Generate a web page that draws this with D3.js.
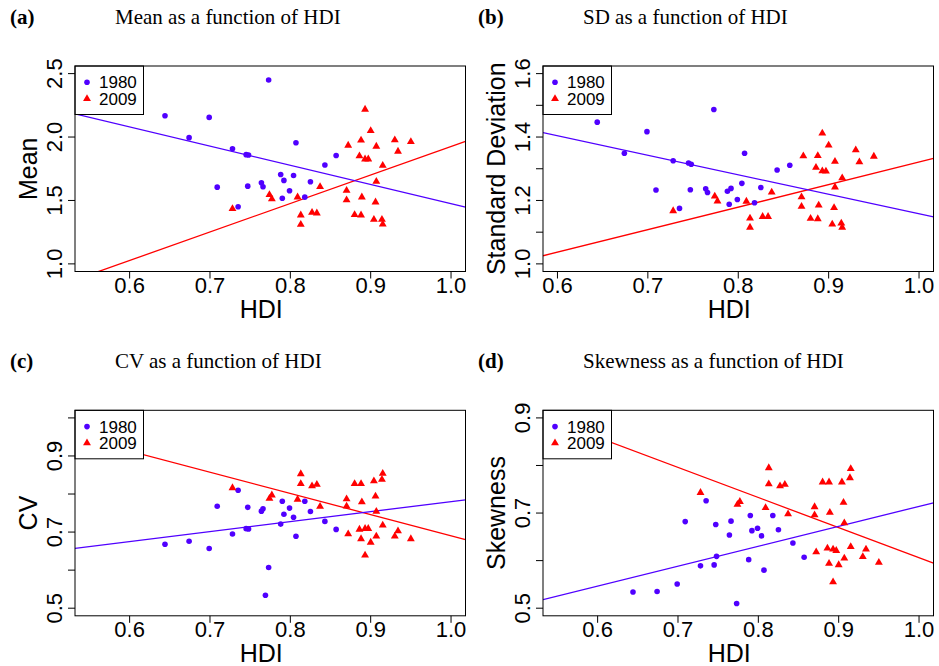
<!DOCTYPE html>
<html>
<head>
<meta charset="utf-8">
<script src="https://cdn.jsdelivr.net/npm/d3@7"></script>
<style>
  body { margin: 0; background: #fff; }
  .tick-label, .axis-label, .legend-text { font-family: "Liberation Sans", Arial, sans-serif; }
  .title, .panel-tag { font-family: "Liberation Serif", "Times New Roman", serif; }
</style>
</head>
<body>
<div class="chart"></div>
<script>
var svgWidth = 939;
var svgHeight = 666;

// 1980 countries (one value per country, null where the point falls outside the plot)
var hdi1980 = [0.644, 0.674, 0.699, 0.709, 0.728, 0.735, 0.745, 0.748, 0.747, 0.764, 0.766, 0.769,
    0.773, 0.788, 0.790, 0.792, 0.799, 0.804, 0.807, 0.818, 0.825, 0.843, 0.857];
var mean1980 = [2.168, 1.995, 2.155, 1.605, 1.908, 1.450, 1.861, 1.858, 1.613, 1.639, 1.608, null,
    2.450, 1.705, 1.518, 1.658, 1.576, 1.697, 1.955, 1.526, 1.647, 1.779, 1.855];
var sd1980 = [1.447, 1.349, 1.417, 1.233, 1.325, 1.175, 1.318, 1.314, 1.234, 1.237, 1.225, null,
    1.487, 1.229, 1.188, 1.238, 1.203, 1.254, 1.349, 1.193, 1.241, 1.296, 1.311];
var cv1980 = [0.668, 0.676, 0.657, 0.768, 0.695, 0.810, 0.709, 0.708, 0.765, 0.755, 0.761, 0.534,
    0.607, 0.721, 0.781, 0.747, 0.763, 0.739, 0.689, 0.781, 0.754, 0.728, 0.707];
var skew1980 = [0.534, 0.535, 0.551, 0.682, 0.589, 0.726, 0.591, 0.609, 0.676, 0.654, 0.683, null,
    0.510, 0.602, 0.695, 0.663, 0.668, 0.652, 0.580, 0.695, 0.665, 0.637, 0.607];

// 2009 countries
var hdi2009 = [0.728, 0.774, 0.777, 0.809, 0.813, 0.813, 0.827, 0.833, 0.837, 0.870, 0.870, 0.872,
    0.880, 0.886, 0.888, 0.889, 0.888, 0.893, 0.893, 0.897, 0.900, 0.904, 0.906, 0.907, 0.907,
    0.915, 0.914, 0.915, 0.930, 0.934, 0.950];
var mean2009 = [1.434, 1.545, 1.511, 1.526, 1.384, 1.311, 1.405, 1.400, 1.608, 1.579, 1.503, 1.934,
    1.387, 1.850, 1.974, 1.526, 1.384, 2.218, 1.826, 1.826, 2.050, 1.350, 1.487, 1.926, 1.650,
    1.776, 1.350, 1.313, 1.976, 1.887, 1.963];
var sd2009 = [1.167, 1.213, 1.198, 1.197, 1.144, 1.115, 1.149, 1.149, 1.226, 1.211, 1.181, 1.340,
    1.143, 1.304, 1.341, 1.185, 1.142, 1.412, 1.293, 1.292, 1.374, 1.125, 1.177, 1.323, 1.242,
    1.271, 1.128, 1.115, 1.359, 1.321, 1.339];
var cv2009 = [0.816, 0.788, 0.797, 0.786, 0.827, 0.853, 0.821, 0.825, 0.767, 0.768, 0.787, 0.695,
    0.827, 0.707, 0.682, 0.779, 0.827, 0.639, 0.709, 0.709, 0.673, 0.834, 0.794, 0.689, 0.754,
    0.718, 0.838, 0.854, 0.689, 0.703, 0.682];
var skew2009 = [0.743, 0.718, 0.724, 0.711, 0.761, 0.795, 0.757, 0.760, 0.698, 0.696, 0.713, 0.618,
    0.765, 0.626, 0.594, 0.701, 0.765, 0.555, 0.624, 0.621, 0.591, 0.765, 0.722, 0.605, 0.679,
    0.629, 0.774, 0.793, 0.608, 0.624, 0.596];

// fitted lines [intercept, slope]
var fitMean1980 = [2.988, -1.513], fitMean2009 = [-0.320, 2.245];
var fitSd1980 = [1.773, -0.615], fitSd2009 = [0.611, 0.710];
var fitCv1980 = [0.518, 0.262], fitCv2009 = [1.248, -0.558];
var fitSkew1980 = [0.295, 0.419], fitSkew2009 = [1.239, -0.633];

// axis ticks
var xTicks = [0.6, 0.7, 0.8, 0.9, 1.0];
var yTicksMean = [1.0, 1.5, 2.0, 2.5];
var yTicksSd = [1.0, 1.1, 1.2, 1.3, 1.4, 1.5, 1.6], yLabelsSd = [1.0, 1.2, 1.4, 1.6];
var yTicksCv = [0.5, 0.6, 0.7, 0.8, 0.9, 1.0], yLabelsCv = [0.5, 0.7, 0.9];
var yTicksSkew = [0.5, 0.6, 0.7, 0.8, 0.9], yLabelsSkew = [0.5, 0.7, 0.9];

var legendYears = ["1980", "2009"];
var col1980 = "#5000ff", col2009 = "#ff0000";

var panels = [
    { tag: "(a)", title: "Mean as a function of HDI", ylab: "Mean", left: 75, top: 66,
      xlim: [0.55, 1.0], ylim: [1.0, 2.5], yTicks: yTicksMean, yLabels: yTicksMean,
      y80: mean1980, y09: mean2009, fit80: fitMean1980, fit09: fitMean2009 },
    { tag: "(b)", title: "SD as a function of HDI", ylab: "Standard Deviation", left: 543, top: 66,
      xlim: [0.6, 1.0], ylim: [1.0, 1.6], yTicks: yTicksSd, yLabels: yLabelsSd,
      y80: sd1980, y09: sd2009, fit80: fitSd1980, fit09: fitSd2009 },
    { tag: "(c)", title: "CV as a function of HDI", ylab: "CV", left: 75, top: 410.3,
      xlim: [0.55, 1.0], ylim: [0.5, 1.0], yTicks: yTicksCv, yLabels: yLabelsCv,
      y80: cv1980, y09: cv2009, fit80: fitCv1980, fit09: fitCv2009 },
    { tag: "(d)", title: "Skewness as a function of HDI", ylab: "Skewness", left: 543, top: 410.3,
      xlim: [0.55, 1.0], ylim: [0.5, 0.9], yTicks: yTicksSkew, yLabels: yLabelsSkew,
      y80: skew1980, y09: skew2009, fit80: fitSkew1980, fit09: fitSkew2009 }
];

var width = 390.5;
var height = 205.5;

var svg = d3.select(".chart")
    .append("svg")
    .attr("width", svgWidth)
    .attr("height", svgHeight);

// R style axis range: 4% padding on each side
function padded(lim) {
    var d = (lim[1] - lim[0]) * 0.04;
    return [lim[0] - d, lim[1] + d];
}

var triangle = d3.symbol().type(d3.symbolTriangle).size(27);

panels.forEach(function(p, i) {
    var g = svg.append("g")
        .attr("transform", `translate(${p.left}, ${p.top})`);

    var x = d3.scaleLinear().domain(padded(p.xlim)).range([0, width]);
    var y = d3.scaleLinear().domain(padded(p.ylim)).range([height, 0]);

    // titles
    svg.append("text")
        .attr("class", "panel-tag")
        .attr("x", p.left - 65)
        .attr("y", p.top - 42)
        .attr("font-size", 21)
        .attr("font-weight", "bold")
        .text(p.tag);

    svg.append("text")
        .attr("class", "title")
        .attr("x", p.left + 40)
        .attr("y", p.top - 42)
        .attr("font-size", 21)
        .text(p.title);

    g.append("clipPath")
        .attr("id", "clip" + i)
        .append("rect")
        .attr("width", width)
        .attr("height", height);

    var plot = g.append("g").attr("clip-path", `url(#clip${i})`);

    // regression lines
    [[p.fit09, col2009], [p.fit80, col1980]].forEach(function(f) {
        var xd = x.domain();
        plot.append("line")
            .attr("x1", x(xd[0]))
            .attr("y1", y(f[0][0] + f[0][1] * xd[0]))
            .attr("x2", x(xd[1]))
            .attr("y2", y(f[0][0] + f[0][1] * xd[1]))
            .attr("stroke", f[1])
            .attr("stroke-width", 1.3);
    });

    var pts80 = hdi1980.map((h, k) => [h, p.y80[k]]).filter(d => d[1] !== null);
    var pts09 = hdi2009.map((h, k) => [h, p.y09[k]]);

    plot.selectAll("circle")
        .data(pts80)
        .enter()
        .append("circle")
        .attr("cx", d => x(d[0]))
        .attr("cy", d => y(d[1]))
        .attr("r", 2.8)
        .attr("fill", col1980);

    plot.selectAll("path.tri")
        .data(pts09)
        .enter()
        .append("path")
        .attr("class", "tri")
        .attr("d", triangle)
        .attr("transform", d => `translate(${x(d[0])}, ${y(d[1])})`)
        .attr("fill", col2009);

    // x axis
    g.selectAll("line.xt")
        .data(xTicks)
        .enter()
        .append("line")
        .attr("x1", d => x(d)).attr("x2", d => x(d))
        .attr("y1", height).attr("y2", height + 7)
        .attr("stroke", "#000");

    g.selectAll("text.xl")
        .data(xTicks)
        .enter()
        .append("text")
        .attr("class", "tick-label")
        .attr("x", d => x(d))
        .attr("y", height + 21.5)
        .attr("text-anchor", "middle")
        .attr("font-size", 22)
        .text(d => d.toFixed(1));

    // y axis
    g.selectAll("line.yt")
        .data(p.yTicks)
        .enter()
        .append("line")
        .attr("x1", 0).attr("x2", -7)
        .attr("y1", d => y(d)).attr("y2", d => y(d))
        .attr("stroke", "#000");

    g.selectAll("text.yl")
        .data(p.yLabels)
        .enter()
        .append("text")
        .attr("class", "tick-label")
        .attr("transform", d => `translate(-13.5, ${y(d)}) rotate(-90)`)
        .attr("text-anchor", "middle")
        .attr("font-size", 22)
        .text(d => d.toFixed(1));

    // axis labels
    g.append("text")
        .attr("class", "axis-label")
        .attr("x", width / 2 - 9)
        .attr("y", height + 46)
        .attr("text-anchor", "middle")
        .attr("font-size", 25)
        .text("HDI");

    g.append("text")
        .attr("class", "axis-label")
        .attr("transform", `translate(-38, ${height / 2}) rotate(-90)`)
        .attr("text-anchor", "middle")
        .attr("font-size", 25)
        .text(p.ylab);

    // legend
    var leg = g.append("g");
    leg.append("rect")
        .attr("width", 68.5)
        .attr("height", 48.5)
        .attr("fill", "#fff")
        .attr("stroke", "#000");
    leg.append("circle")
        .attr("cx", 12).attr("cy", 16.3).attr("r", 2.8)
        .attr("fill", col1980);
    leg.append("path")
        .attr("d", triangle)
        .attr("transform", "translate(12, 32.7)")
        .attr("fill", col2009);
    leg.selectAll("text")
        .data(legendYears)
        .enter()
        .append("text")
        .attr("class", "legend-text")
        .attr("x", 24)
        .attr("y", (d, k) => 22.3 + k * 16.3)
        .attr("font-size", 17)
        .text(d => d);

    // box
    g.append("rect")
        .attr("width", width)
        .attr("height", height)
        .attr("fill", "none")
        .attr("stroke", "#000");
});
</script>
</body>
</html>
